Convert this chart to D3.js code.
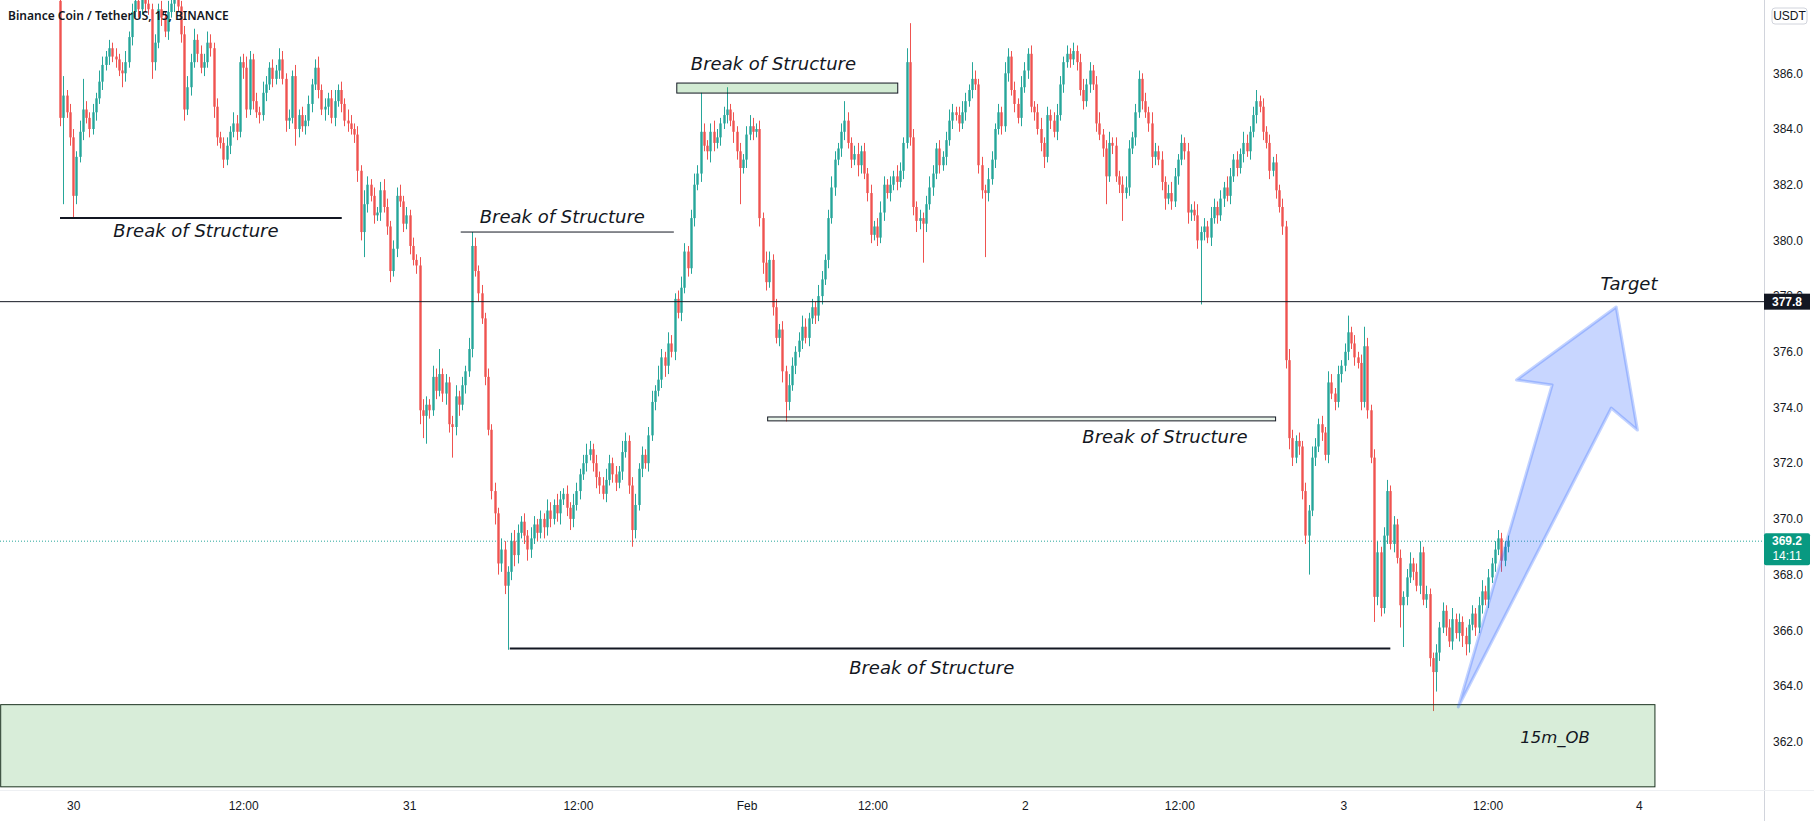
<!DOCTYPE html>
<html>
<head>
<meta charset="utf-8">
<script src="https://cdn.jsdelivr.net/npm/d3@7/dist/d3.min.js"></script>
<style>
  html, body { margin: 0; padding: 0; background: #fff; }
  svg { display: block; }
  .note { font-family: "DejaVu Sans", sans-serif; font-style: italic; font-size: 18px; fill: #131722; }
  .tick { font-family: "Liberation Sans", Arial, sans-serif; font-size: 12px; fill: #131722; }
</style>
</head>
<body>
<div id="chart"></div>
<script>
// BNB/USDT 15m, closes (open = previous close)
var firstOpen = 388.6;
var closes = [
  384.4, 385.2, 384.6, 383.7, 381.6, 383.0, 383.9, 384.7, 384.4, 384.0,
  384.6, 385.1, 385.7, 386.3, 386.6, 386.9, 386.6, 386.5, 386.1, 386.0,
  386.4, 387.3, 388.2, 388.6, 388.3, 388.7, 388.5, 388.3, 386.4, 387.1,
  388.3, 388.0, 387.5, 388.2, 388.5, 388.7, 388.4, 387.4, 384.7, 385.5,
  386.4, 387.2, 386.7, 386.2, 386.4, 387.1, 386.9, 384.8, 383.7, 383.5,
  382.9, 383.4, 383.9, 384.2, 383.9, 386.4, 386.2, 384.7, 386.5, 385.0,
  384.6, 384.5, 385.3, 385.6, 386.2, 385.8, 386.1, 386.5, 385.8, 384.3,
  384.4, 385.9, 384.0, 384.5, 384.1, 384.3, 384.9, 385.6, 386.2, 385.4,
  384.7, 384.8, 385.1, 384.4, 385.0, 385.4, 384.9, 384.3, 384.2, 384.0,
  383.8, 382.5, 380.3, 381.3, 382.0, 381.6, 380.9, 381.0, 381.8, 381.2,
  380.5, 378.9, 379.7, 381.6, 381.4, 380.6, 380.9, 379.8, 379.3, 379.1,
  373.9, 373.7, 374.1, 373.9, 375.1, 374.6, 375.2, 374.5, 374.9, 373.4,
  373.3, 374.4, 374.1, 374.8, 375.3, 376.1, 379.8, 378.9, 378.1, 377.2,
  375.1, 373.2, 371.0, 370.2, 368.4, 368.9, 367.6, 368.1, 369.2, 368.7,
  369.5, 369.9, 369.4, 368.9, 369.3, 369.8, 369.5, 370.0, 369.7, 370.3,
  370.0, 370.5, 370.2, 370.7, 370.9, 370.4, 370.0, 370.5, 371.0, 371.6,
  372.0, 372.3, 372.5, 372.0, 371.5, 371.2, 370.9, 371.4, 372.0, 371.6,
  371.3, 371.7, 372.4, 372.8, 371.2, 369.6, 370.5, 371.8, 372.3, 372.0,
  373.0, 374.2, 374.6, 375.0, 375.8, 375.5, 376.3, 376.0, 377.9, 377.4,
  378.3, 379.6, 379.0, 380.8, 382.0, 382.4, 383.9, 383.4, 383.2, 383.9,
  383.5, 383.7, 384.2, 384.5, 384.7, 384.3, 383.9, 383.2, 382.6, 382.9,
  383.8, 384.1, 383.9, 384.0, 380.8, 379.2, 378.5, 379.3, 377.6, 376.5,
  376.8, 375.3, 374.2, 374.8, 375.5, 376.0, 376.4, 376.9, 376.5, 377.2,
  377.6, 377.3, 378.0, 378.6, 379.3, 380.8, 381.9, 382.9, 383.3, 383.9,
  384.3, 383.5, 382.9, 383.1, 382.7, 383.2, 382.4, 381.7, 380.2, 380.5,
  380.1, 381.0, 382.0, 381.7, 382.0, 382.3, 382.1, 382.5, 383.5, 386.4,
  383.7, 381.2, 380.7, 380.8, 380.6, 381.3, 381.9, 382.4, 383.3, 382.7,
  383.0, 383.6, 384.3, 384.6, 384.5, 384.2, 384.6, 385.0, 385.4, 385.8,
  385.6, 382.7, 381.8, 381.7, 382.2, 382.9, 384.0, 384.6, 384.1, 386.0,
  386.6, 385.4, 384.9, 384.4, 385.5, 386.1, 386.7, 384.8, 384.6, 384.0,
  383.5, 383.0, 384.5, 384.3, 383.9, 384.5, 385.6, 386.4, 386.7, 386.5,
  386.8, 386.4, 385.4, 385.0, 385.6, 386.1, 385.6, 384.2, 383.8, 383.3,
  382.3, 383.5, 383.4, 382.3, 382.0, 381.7, 381.9, 383.3, 383.7, 384.6,
  385.8, 385.0, 384.6, 384.2, 383.0, 383.2, 382.9, 382.1, 381.5, 381.7,
  381.4, 382.3, 382.9, 383.5, 383.2, 381.0, 381.1, 380.9, 380.0, 380.3,
  380.5, 380.1, 380.8, 381.2, 380.9, 381.5, 381.9, 381.6, 382.3, 382.9,
  382.6, 383.1, 383.5, 383.2, 383.9, 384.5, 385.0, 384.8, 383.9, 383.5,
  382.5, 382.8, 381.8, 381.2, 380.5, 375.7, 372.9, 372.2, 372.8, 372.6,
  371.0, 369.4, 370.3, 372.2, 372.6, 373.4, 373.1, 372.3, 374.9, 374.5,
  374.2, 375.2, 375.5, 376.0, 376.7, 376.3, 375.8, 375.6, 374.2, 376.2,
  373.9, 372.2, 367.2, 368.8, 366.8, 369.4, 371.0, 369.1, 369.8, 368.6,
  366.9, 367.2, 367.9, 368.4, 368.1, 367.6, 368.8, 367.1, 367.3, 365.0,
  364.5, 365.2, 366.1, 366.7, 366.1, 365.6, 366.4, 365.9, 366.3, 365.8,
  365.5, 366.2, 366.6, 366.1, 366.9, 367.4, 367.1, 367.9, 368.4, 368.9,
  369.3, 368.5, 369.0, 369.2
];
// wick lengths above / below the body, in tenths of a USDT
var wickUp = [
  4,7,2,3,3,2,4,11,3,2, 3,2,4,3,2,3,2,3,2,3, 4,2,3,4,2,3,2,3,2,3, 2,3,2,4,3,2,3,2,3,4,
  3,4,2,3,3,4,3,2,3,2, 2,3,2,4,3,2,3,4,3,2, 3,2,4,3,2,3,2,4,3,2, 3,2,4,2,3,2,3,2,3,4,
  2,3,2,3,4,2,3,2,4,3, 2,3,2,5,3,2,3,2,3,4, 3,2,3,3,4,2,3,2,3,2, 3,4,3,2,4,3,9,2,3,2,
  3,4,2,3,2,4,5,3,2,3, 2,3,2,3,2,4,3,2,3,4, 3,2,3,2,4,3,2,3,2,4, 3,2,4,3,2,3,2,4,3,2,
  3,4,3,2,3,2,3,4,3,2, 3,2,4,3,2,3,4,2,3,2, 3,4,2,5,3,2,4,3,2,3, 4,3,2,3,4,3,14,3,2,3,
  4,3,2,3,8,2,3,2,3,2, 3,4,3,2,3,2,4,3,2,3, 2,3,2,4,3,2,3,4,3,2, 3,2,4,3,2,3,4,3,2,3,
  7,3,2,3,4,2,3,2,3,2, 3,4,3,2,3,2,4,3,2,5, 14,3,2,3,2,3,4,3,2,3, 2,3,4,3,2,3,4,3,2,6,
  3,2,3,2,4,3,2,3,2,4, 3,2,3,2,4,3,2,3,2,3, 4,2,3,2,3,4,3,2,3,2, 3,2,3,4,2,3,2,3,4,2,
  3,4,2,3,2,3,4,3,2,3, 3,2,3,2,4,3,2,3,2,3, 4,3,2,3,2,3,2,3,4,2, 3,2,4,3,2,3,2,4,3,2,
  3,2,4,3,2,3,4,2,3,2, 3,2,3,2,3,2,4,3,2,3, 2,3,2,4,3,2,3,2,4,3, 2,3,2,3,6,2,3,2,3,7,
  3,2,3,4,2,3,4,2,3,2, 3,2,3,4,2,3,4,2,3,2, 2,3,2,3,2,3,4,2,3,2, 3,2,3,2,3,4,2,3,2,3,
  3,2,2,2
];
var wickDn = [
  3,31,2,3,8,3,2,3,2,3, 2,3,2,3,2,3,2,3,2,5, 3,2,3,2,3,2,3,2,6,3, 2,3,2,3,2,3,2,3,4,2,
  3,2,3,2,3,2,3,4,3,2, 3,2,3,2,3,2,4,3,2,3, 2,3,2,3,2,3,2,3,2,4, 3,2,6,3,2,3,2,3,2,3,
  2,4,3,2,3,2,3,2,3,2, 3,4,3,9,3,2,3,2,3,2, 3,4,2,3,2,3,2,3,2,3, 5,8,10,3,2,3,2,3,4,3,
  11,3,4,2,3,2,3,2,3,2, 3,2,3,4,4,3,3,23,3,4, 3,2,3,4,3,2,3,2,4,3, 3,2,3,4,2,3,4,3,2,3,
  2,3,2,3,4,3,2,3,2,3, 3,2,3,2,3,6,3,2,3,2, 3,2,3,2,3,4,3,2,3,2, 3,2,3,2,3,2,3,2,3,4,
  3,2,3,2,3,2,4,3,13,2, 3,2,3,2,3,4,3,2,3,2, 3,4,7,3,2,3,2,3,2,3, 2,3,2,3,2,3,2,3,2,3,
  3,2,3,2,4,3,2,3,3,2, 3,2,3,2,3,2,3,2,3,2, 3,3,4,3,14,3,2,3,2,3, 2,3,2,3,2,3,2,3,2,3,
  2,3,3,23,3,2,3,2,3,2, 3,2,3,2,3,2,3,2,3,2, 3,4,2,3,2,3,2,3,2,3, 2,3,2,3,2,3,2,3,2,3,
  10,2,3,2,3,10,2,3,2,3, 2,3,2,3,4,3,2,3,4,2, 3,2,3,2,3,4,3,2,3,23, 3,2,3,2,3,2,3,2,3,2,
  3,2,3,2,3,2,3,2,3,2, 3,2,3,2,3,3,4,3,2,3, 3,3,14,2,3,2,3,2,3,2, 3,2,3,2,3,2,3,2,3,2,
  3,2,9,3,3,2,3,2,3,2, 8,15,3,2,3,2,3,2,3,3, 14,7,3,2,3,2,3,2,3,4, 4,3,2,3,2,3,2,3,2,3,
  2,4,2,2
];

// time labels and the candle slot each one sits under
var timeLabels = ["30", "12:00", "31", "12:00", "Feb", "12:00", "2", "12:00", "3", "12:00", "4"];
var timeIdx = [4.2, 56.2, 107, 158.6, 210.2, 248.7, 295.3, 342.6, 392.8, 436.9, 483.2];
var priceTicks = [362, 364, 366, 368, 370, 372, 374, 376, 378, 380, 382, 384, 386];
var targetPrice = 377.8;
var lastPrice = 369.2;
var countdown = "14:11";

// drawings, in candle index / price
var bosLines = [
  {i0: 0, i1: 86.2, p: 380.8, w: 2},
  {i0: 122.6, i1: 187.8, p: 380.3, w: 1},
  {i0: 137.6, i1: 407, p: 365.35, w: 2}
];
var bosBoxes = [
  {i0: 188.7, i1: 256.3, p0: 385.65, p1: 385.29, fill: "rgba(76,175,80,0.25)"},
  {i0: 216.5, i1: 371.9, p0: 373.66, p1: 373.52, fill: "rgba(76,175,80,0.12)"}
];
var notes = [
  {t: "Break of Structure", i: 41.6, p: 380.12, a: "middle", s: 18},
  {t: "Break of Structure", i: 128.4, p: 380.62, a: "start", s: 18},
  {t: "Break of Structure", i: 193, p: 386.12, a: "start", s: 18},
  {t: "Break of Structure", i: 363.3, p: 372.73, a: "end", s: 18},
  {t: "Break of Structure", i: 266.7, p: 364.43, a: "middle", s: 18},
  {t: "15m_OB", i: 457.4, p: 361.96, a: "middle", s: 16.5},
  {t: "Target", i: 480, p: 378.22, a: "middle", s: 18}
];
var obZone = {i0: -18.3, i1: 487.8, p0: 363.33, p1: 360.38};
var arrowPts = [
  [427.8, 363.25], [456.5, 374.81], [445.6, 374.99], [476.1, 377.61],
  [482.6, 373.19], [474.6, 373.98]
];

var width = 1814, height = 821,
    paneRight = 1764, paneBottom = 790;

var up = "#26a69a", down = "#ef5350";

var x = d3.scaleLinear()
    .domain([0, closes.length - 1])
    .range([60, 1508]);

var y = d3.scaleLinear()
    .domain([362, 386])
    .range([741.7, 73.3]);

var candles = closes.map(function(c, i) {
  var o = i === 0 ? firstOpen : closes[i - 1];
  return {
    i: i, o: o, c: c,
    h: Math.max(o, c) + wickUp[i] / 10,
    l: Math.min(o, c) - wickDn[i] / 10
  };
});

var svg = d3.select("#chart")
  .append("svg")
    .attr("width", width)
    .attr("height", height);

var defs = svg.append("defs");
defs.append("clipPath")
    .attr("id", "pane")
  .append("rect")
    .attr("width", paneRight)
    .attr("height", paneBottom);
// the 378.0 tick is mostly hidden behind the 377.8 label
defs.append("clipPath")
    .attr("id", "hidden378")
  .append("rect")
    .attr("x", paneRight)
    .attr("y", 0)
    .attr("width", width - paneRight)
    .attr("height", y(targetPrice) - 8);

var pane = svg.append("g").attr("clip-path", "url(#pane)");

// last price dotted line
pane.append("line")
    .attr("x1", 0).attr("x2", paneRight)
    .attr("y1", y(lastPrice)).attr("y2", y(lastPrice))
    .attr("stroke", up)
    .attr("stroke-width", 1)
    .attr("stroke-dasharray", "1,2");

// candles
var candle = pane.append("g")
    .selectAll("g")
    .data(candles)
    .enter()
  .append("g");

candle.append("line")
    .attr("x1", function(d) { return Math.round(x(d.i)) + 0.5; })
    .attr("x2", function(d) { return Math.round(x(d.i)) + 0.5; })
    .attr("y1", function(d) { return y(d.h); })
    .attr("y2", function(d) { return y(d.l); })
    .attr("stroke", function(d) { return d.c >= d.o ? up : down; })
    .attr("stroke-width", 1);

candle.append("rect")
    .attr("x", function(d) { return Math.round(x(d.i)) - 0.7; })
    .attr("width", 2.4)
    .attr("y", function(d) { return y(Math.max(d.o, d.c)); })
    .attr("height", function(d) { return Math.max(1, y(Math.min(d.o, d.c)) - y(Math.max(d.o, d.c))); })
    .attr("fill", function(d) { return d.c >= d.o ? up : down; });

// target line
pane.append("line")
    .attr("x1", 0).attr("x2", paneRight)
    .attr("y1", y(targetPrice)).attr("y2", y(targetPrice))
    .attr("stroke", "#131722")
    .attr("stroke-width", 1);

// order block zone
pane.append("rect")
    .attr("x", x(obZone.i0) + 0.5)
    .attr("y", y(obZone.p0))
    .attr("width", x(obZone.i1) - x(obZone.i0))
    .attr("height", y(obZone.p1) - y(obZone.p0))
    .attr("fill", "rgba(76,175,80,0.22)")
    .attr("stroke", "#1c3320")
    .attr("stroke-width", 1);

pane.selectAll(".bosbox")
    .data(bosBoxes)
    .enter()
  .append("rect")
    .attr("class", "bosbox")
    .attr("x", function(d) { return x(d.i0); })
    .attr("y", function(d) { return y(d.p0); })
    .attr("width", function(d) { return x(d.i1) - x(d.i0); })
    .attr("height", function(d) { return y(d.p1) - y(d.p0); })
    .attr("fill", function(d) { return d.fill; })
    .attr("stroke", "#131722")
    .attr("stroke-width", 1);

pane.selectAll(".bosline")
    .data(bosLines)
    .enter()
  .append("line")
    .attr("class", "bosline")
    .attr("x1", function(d) { return x(d.i0); })
    .attr("x2", function(d) { return x(d.i1); })
    .attr("y1", function(d) { return y(d.p); })
    .attr("y2", function(d) { return y(d.p); })
    .attr("stroke", "#131722")
    .attr("stroke-width", function(d) { return d.w; });

// arrow
pane.append("path")
    .attr("d", d3.line()
        .x(function(d) { return x(d[0]); })
        .y(function(d) { return y(d[1]); })(arrowPts) + "Z")
    .attr("fill", "rgba(41,98,255,0.26)")
    .attr("stroke", "rgba(41,98,255,0.28)")
    .attr("stroke-width", 3)
    .attr("stroke-linejoin", "round");

pane.selectAll(".note")
    .data(notes)
    .enter()
  .append("text")
    .attr("class", "note")
    .attr("x", function(d) { return x(d.i); })
    .attr("y", function(d) { return y(d.p); })
    .attr("text-anchor", function(d) { return d.a; })
    .style("font-size", function(d) { return d.s + "px"; })
    .text(function(d) { return d.t; });

// title
svg.append("text")
    .attr("x", 8)
    .attr("y", 20)
    .attr("font-family", "'Noto Sans', sans-serif")
    .attr("font-weight", 600)
    .attr("font-size", "12px")
    .attr("fill", "#131722")
    .text("Binance Coin / TetherUS, 15, BINANCE");

// price axis
svg.append("line")
    .attr("x1", paneRight + 0.5).attr("x2", paneRight + 0.5)
    .attr("y1", 0).attr("y2", height)
    .attr("stroke", "#d1d4dc");

svg.append("line")
    .attr("x1", 0).attr("x2", width)
    .attr("y1", paneBottom + 0.5).attr("y2", paneBottom + 0.5)
    .attr("stroke", "#eef0f3");

svg.append("g")
    .selectAll(".ptick")
    .data(priceTicks)
    .enter()
  .append("text")
    .attr("class", "tick")
    .attr("x", paneRight + 9)
    .attr("y", function(d) { return y(d); })
    .attr("dy", "0.35em")
    .attr("clip-path", function(d) { return d === 378 ? "url(#hidden378)" : null; })
    .text(function(d) { return d.toFixed(1); });

svg.append("rect")
    .attr("x", 1772).attr("y", 8)
    .attr("width", 35).attr("height", 16)
    .attr("rx", 3)
    .attr("fill", "#fff")
    .attr("stroke", "#d1d4dc");
svg.append("text")
    .attr("class", "tick")
    .attr("x", 1789.5).attr("y", 16)
    .attr("dy", "0.35em")
    .attr("text-anchor", "middle")
    .attr("font-size", "11px")
    .text("USDT");

svg.append("rect")
    .attr("x", paneRight).attr("y", y(targetPrice) - 8)
    .attr("width", 46).attr("height", 16)
    .attr("fill", "#131722");
svg.append("text")
    .attr("class", "tick")
    .attr("x", paneRight + 23).attr("y", y(targetPrice))
    .attr("dy", "0.35em")
    .attr("text-anchor", "middle")
    .attr("font-weight", "bold")
    .style("fill", "#fff")
    .text(targetPrice.toFixed(1));

svg.append("rect")
    .attr("x", paneRight).attr("y", y(lastPrice) - 8)
    .attr("width", 46).attr("height", 32)
    .attr("rx", 2)
    .attr("fill", "#089981");
svg.append("text")
    .attr("class", "tick")
    .attr("x", paneRight + 23).attr("y", y(lastPrice))
    .attr("dy", "0.35em")
    .attr("text-anchor", "middle")
    .attr("font-weight", "bold")
    .style("fill", "#fff")
    .text(lastPrice.toFixed(1));
svg.append("text")
    .attr("class", "tick")
    .attr("x", paneRight + 23).attr("y", y(lastPrice) + 15)
    .attr("dy", "0.35em")
    .attr("text-anchor", "middle")
    .style("fill", "#fff")
    .text(countdown);

// time axis
svg.selectAll(".ttick")
    .data(timeLabels)
    .enter()
  .append("text")
    .attr("class", "tick")
    .attr("x", function(d, i) { return x(timeIdx[i]); })
    .attr("y", 806)
    .attr("dy", "0.35em")
    .attr("text-anchor", "middle")
    .text(function(d) { return d; });
</script>
</body>
</html>
